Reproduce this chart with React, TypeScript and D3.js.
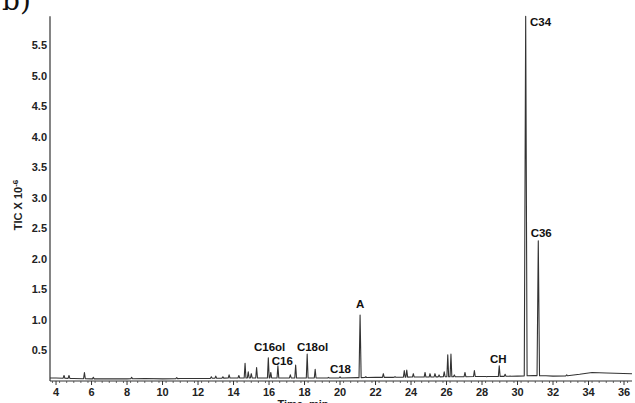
import React from "react";
import * as d3 from "d3";

// Retention times (min) and apex heights (TIC x 10^-6) of the peaks
const peakTimes = [
  4.45, 4.73, 5.6, 6.1, 8.26, 10.8, 12.75, 13.0, 13.4, 13.75, 14.3, 14.65, 14.83, 15.0, 15.3,
  15.96, 16.1, 16.5, 17.2, 17.5, 18.15, 18.6, 19.35, 20.0, 21.13, 21.45, 22.44, 23.1, 23.62,
  23.76, 24.13, 24.79, 25.07, 25.35, 25.58, 25.87, 26.07, 26.25, 26.44, 27.04, 27.57, 28.26,
  28.97, 29.3, 29.58, 30.46, 31.17, 32.77,
];
const peakHeights = [
  0.09, 0.09, 0.14, 0.06, 0.06, 0.055, 0.07, 0.08, 0.07, 0.1, 0.09, 0.29, 0.15, 0.12, 0.22,
  0.38, 0.14, 0.25, 0.1, 0.26, 0.44, 0.19, 0.06, 0.07, 1.08, 0.07, 0.12, 0.07, 0.17,
  0.18, 0.12, 0.14, 0.12, 0.12, 0.1, 0.15, 0.43, 0.44, 0.1, 0.14, 0.17, 0.07,
  0.25, 0.11, 0.08, 5.98, 2.3, 0.1,
];
const peakWidths = [
  0.05, 0.05, 0.05, 0.05, 0.05, 0.05, 0.05, 0.05, 0.05, 0.05, 0.05, 0.05, 0.05, 0.05, 0.05,
  0.05, 0.05, 0.05, 0.05, 0.05, 0.05, 0.05, 0.05, 0.05, 0.06, 0.05, 0.05, 0.05, 0.05,
  0.05, 0.05, 0.05, 0.05, 0.05, 0.05, 0.05, 0.05, 0.05, 0.05, 0.05, 0.05, 0.05,
  0.05, 0.05, 0.05, 0.08, 0.07, 0.05,
];

// Baseline of the trace
const baseTimes = [3.66, 4.0, 5.0, 6.0, 7.0, 8.0, 9.0, 10.0, 11.0, 12.0, 13.0, 14.0, 15.0, 16.0, 17.0, 18.0, 19.0, 20.0, 21.0, 22.0, 23.0, 24.0, 25.0, 26.0, 27.0, 28.0, 29.0, 30.0, 30.9, 31.6, 32.0, 32.8, 33.5, 34.2, 35.0, 36.45];
const baseValues = [0.05, 0.05, 0.04, 0.035, 0.035, 0.035, 0.04, 0.035, 0.04, 0.04, 0.045, 0.05, 0.05, 0.05, 0.05, 0.05, 0.05, 0.05, 0.055, 0.06, 0.06, 0.065, 0.065, 0.07, 0.07, 0.075, 0.075, 0.08, 0.09, 0.085, 0.08, 0.085, 0.11, 0.14, 0.13, 0.12];

// Peak annotations
const labelTexts = ["C16ol", "C16", "C18ol", "C18", "A", "CH", "C36", "C34"];
const labelTimes = [15.15, 16.15, 17.57, 19.43, 21.14, 28.92, 30.74, 30.7];
const labelValues = [0.49, 0.27, 0.49, 0.13, 1.2, 0.295, 2.36, 5.82];
const labelAnchors = ["start", "start", "start", "start", "middle", "middle", "start", "start"];

const xTicks = [4, 6, 8, 10, 12, 14, 16, 18, 20, 22, 24, 26, 28, 30, 32, 34, 36];
const yTicks = [0.5, 1.0, 1.5, 2.0, 2.5, 3.0, 3.5, 4.0, 4.5, 5.0, 5.5];

const W = 635;
const H = 403;

export default function App() {
  const x = d3.scaleLinear().domain([3.66, 36.45]).range([50, 632]);
  const y = d3.scaleLinear().domain([0, 6]).range([381, 15]);

  const baseAt = (t: number) => {
    for (let i = 0; i < baseTimes.length - 1; i++) {
      if (t >= baseTimes[i] && t <= baseTimes[i + 1]) {
        const f = (t - baseTimes[i]) / (baseTimes[i + 1] - baseTimes[i]);
        return baseValues[i] + f * (baseValues[i + 1] - baseValues[i]);
      }
    }
    return baseValues[baseValues.length - 1];
  };

  const times = new Set<number>(baseTimes);
  peakTimes.forEach((t, i) => {
    times.add(t - peakWidths[i]);
    times.add(t);
    times.add(t + peakWidths[i]);
  });
  const sorted = Array.from(times).filter((t) => t >= 3.66 && t <= 36.45).sort((a, b) => a - b);
  const points: [number, number][] = sorted.map((t) => {
    let v = baseAt(t);
    peakTimes.forEach((pt, i) => {
      const w = peakWidths[i];
      const d = Math.abs(t - pt);
      if (d < w) {
        const rel = peakHeights[i] - baseAt(pt);
        v += rel * (1 - d / w);
      }
    });
    return [t, v];
  });

  const line = d3
    .line<[number, number]>()
    .x((d) => x(d[0]))
    .y((d) => y(d[1]));

  const minorTicks = d3.range(3.8, 36.45, 0.4);

  const font = "'Liberation Sans', Arial, sans-serif";

  return (
    <svg
      width={W}
      height={H}
      style={{ position: "absolute", left: 0, top: 0, background: "#fff" }}
      fontFamily={font}
    >
      <text x={2} y={10} fontFamily="'DejaVu Serif', serif" fontSize={28} fill="#111">
        b)
      </text>

      {/* y axis */}
      <line x1={x(3.66)} x2={x(3.66)} y1={y(0)} y2={y(5.98)} stroke="#333" strokeWidth={1.2} />
      {yTicks.map((t) => (
        <text
          key={t}
          x={47}
          y={y(t)}
          dy="0.35em"
          textAnchor="end"
          fontSize={11}
          fontWeight="bold"
          fill="#222"
        >
          {t.toFixed(1)}
        </text>
      ))}
      <text
        transform={`translate(22,205) rotate(-90)`}
        textAnchor="middle"
        fontSize={11}
        fontWeight="bold"
        fill="#222"
      >
        TIC X 10
        <tspan dy={-4} fontSize={8}>
          -6
        </tspan>
      </text>

      {/* x axis */}
      <line x1={x(3.66)} x2={x(36.45)} y1={381} y2={381} stroke="#333" strokeWidth={1.2} />
      {minorTicks.map((t, i) => (
        <line key={"m" + i} x1={x(t)} x2={x(t)} y1={381} y2={383} stroke="#444" strokeWidth={0.8} />
      ))}
      {xTicks.map((t) => (
        <g key={t}>
          <line x1={x(t)} x2={x(t)} y1={381} y2={385} stroke="#333" strokeWidth={1} />
          <text x={x(t)} y={395.5} textAnchor="middle" fontSize={11} fontWeight="bold" fill="#222">
            {t}
          </text>
        </g>
      ))}
      <text x={303} y={408} textAnchor="middle" fontSize={11} fontWeight="bold" fill="#222">
        Time, min
      </text>

      {/* trace */}
      <path d={line(points) || ""} fill="none" stroke="#333" strokeWidth={1.1} strokeLinejoin="round" />

      {/* annotations */}
      {labelTexts.map((s, i) => (
        <text
          key={s}
          x={x(labelTimes[i])}
          y={y(labelValues[i])}
          textAnchor={labelAnchors[i] as any}
          fontSize={11.5}
          fontWeight="bold"
          fill="#111"
        >
          {s}
        </text>
      ))}
    </svg>
  );
}
